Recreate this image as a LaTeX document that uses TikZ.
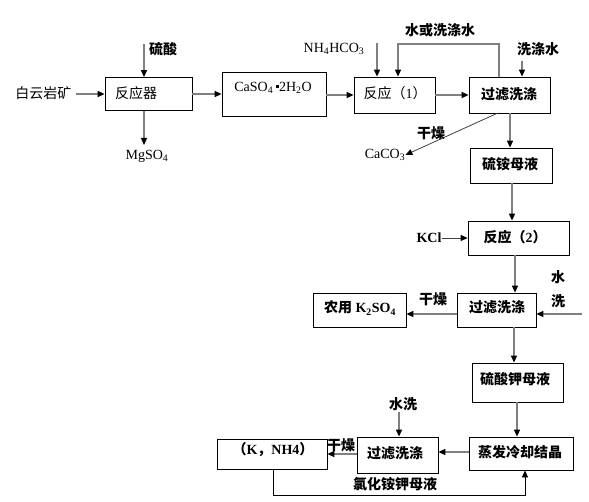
\documentclass[tikz,border=0pt]{standalone}
\usepackage{fontspec}
\setmainfont{Liberation Serif}
\newfontfamily\cjk{Noto Sans CJK SC}
\usetikzlibrary{arrows.meta}
\newcommand{\zh}[1]{{\cjk #1}}
\newcommand{\zhb}[1]{{\cjk\bfseries #1}}
\newcommand{\sub}[1]{\textsubscript{#1}}
\begin{document}
\begin{tikzpicture}[x=1pt,y=-1pt,
  box/.style={draw=black, line width=0.8pt, inner sep=0pt},
  txt/.style={inner sep=0pt, font=\fontsize{14pt}{16pt}\selectfont},
  arr/.style={draw=black!50, line width=1.3pt, -{Triangle[length=7pt,width=6pt,black]}},
  thinarr/.style={draw=black!75, line width=0.8pt, -{Triangle[length=7pt,width=6pt,black]}},
  loopline/.style={draw=black, line width=0.8pt, -{Triangle[length=7pt,width=6pt,black]}}]
\useasboundingbox (0,0) rectangle (589,502);
\fill[white] (0,0) rectangle (589,502);

% boxes
\node[box, minimum width=87pt, minimum height=33pt] (r1) at (148.5,94) {};
\node[box, minimum width=104pt, minimum height=44pt] (caso) at (274,94) {};
\node[box, minimum width=81pt, minimum height=36pt] (ra1) at (394.5,95) {};
\node[box, minimum width=81pt, minimum height=36pt] (f1) at (509.5,95) {};
\node[box, minimum width=82pt, minimum height=35pt] (ml1) at (511,165.5) {};
\node[box, minimum width=101pt, minimum height=34pt] (ra2) at (518.5,238) {};
\node[box, minimum width=79pt, minimum height=34pt] (f2) at (496.5,310) {};
\node[box, minimum width=93pt, minimum height=34pt] (k2) at (359.5,310) {};
\node[box, minimum width=91pt, minimum height=39pt] (ml2) at (517.5,382.5) {};
\node[box, minimum width=104pt, minimum height=33pt] (ev) at (521,453.5) {};
\node[box, minimum width=81pt, minimum height=36pt] (f3) at (397.5,455) {};
\node[box, minimum width=110pt, minimum height=30pt] (kn) at (272,454) {};

% texts in boxes
\node[txt] (t1) at (136,93) {\zh{反应器}};
\node[txt] (t2) at (273,88) {CaSO\sub{4}\,\rule[0.22em]{0.25em}{0.25em}2H\sub{2}O};
\node[txt] (t3) at (395,93) {\zh{反应（}1\zh{）}};
\node[txt] (t4) at (509,94) {\zhb{过滤洗涤}};
\node[txt] (t5) at (510,164) {\zhb{硫铵母液}};
\node[txt] (t6) at (515,237) {\zhb{反应（}\textbf{2}\zhb{）}};
\node[txt] (t7) at (497,307) {\zhb{过滤洗涤}};
\node[txt] (t8) at (360,308) {\zhb{农用} \textbf{K\sub{2}SO\sub{4}}};
\node[txt] (t9) at (515,379) {\zhb{硫酸钾母液}};
\node[txt] (t10) at (520,452) {\zhb{蒸发冷却结晶}};
\node[txt] (t11) at (395,453) {\zhb{过滤洗涤}};
\node[txt] (t12) at (273,450) {\zhb{（}\textbf{K}\zhb{，}\textbf{NH4}\zhb{）}};

% free labels
\node[txt] (ore) at (43.5,93) {\zh{白云岩矿}};
\node[txt] (acid) at (163,49) {\zhb{硫酸}};
\node[txt] (mg) at (147,156) {MgSO\sub{4}};
\node[txt] (nh) at (334,49) {NH\sub{4}HCO\sub{3}};
\node[txt] (wa) at (440,30) {\zhb{水或洗涤水}};
\node[txt] (wb) at (538,49) {\zhb{洗涤水}};
\node[txt] (dry1) at (431,133) {\zhb{干燥}};
\node[txt] (caco) at (385,155) {CaCO\sub{3}};
\node[txt] (kcl) at (429,238) {\textbf{KCl}};
\node[txt] (shui) at (558,277) {\zhb{水}};
\node[txt] (xi) at (558,301) {\zhb{洗}};
\node[txt] (dry2) at (433,299) {\zhb{干燥}};
\node[txt] (sx) at (403,404) {\zhb{水洗}};
\node[txt] (dry3) at (341,445) {\zhb{干燥}};
\node[txt] (lq) at (395,484) {\zhb{氯化铵钾母液}};

% coordinates for free ends and line positions
\coordinate (a0) at (76,94);
\coordinate (s0) at (144,44);
\coordinate (m0) at (144,145);
\coordinate (n0) at (377,43);
\coordinate (lp) at (499,44);
\coordinate (lr) at (398,44);
\coordinate (w0) at (522,61);
\coordinate (cs) at (497,0);
\coordinate (x510) at (510,0);
\coordinate (x512) at (512,0);
\coordinate (x515) at (515,0);
\coordinate (h0) at (582,314);
\coordinate (y314) at (0,314);
\coordinate (x514) at (514,0);
\coordinate (x517) at (517,0);
\coordinate (y452) at (0,452);
\coordinate (v0) at (399,412);
\coordinate (y454) at (0,454);
\coordinate (b1) at (273,495);
\coordinate (b2) at (525,495);

% connectors
\draw[arr] (a0) -- (a0 -| r1.west);
\draw[arr] (s0) -- (s0 |- r1.north);
\draw[arr] (m0 |- r1.south) -- (m0);
\draw[arr] (r1.east) -- (caso.west);
\draw[arr] (caso.east |- ra1) -- (ra1.west);
\draw[arr] (ra1.east) -- (f1.west);
\draw[arr] (n0) -- (n0 |- ra1.north);
\draw[arr] (lp |- f1.north) -- (lp) -- (lr) -- (lr |- ra1.north);
\draw[arr] (w0) -- (w0 |- f1.north);
\draw[thinarr] (cs |- f1.south) -- (caco.east);
\draw[arr] (x510 |- f1.south) -- (x510 |- ml1.north);
\draw[arr] (x512 |- ml1.south) -- (x512 |- ra2.north);
\draw[thinarr] (kcl.east) -- (kcl.east -| ra2.west);
\draw[arr] (x515 |- ra2.south) -- (x515 |- f2.north);
\draw[arr] (h0) -- (h0 -| f2.east);
\draw[arr] (y314 -| f2.west) -- (y314 -| k2.east);
\draw[arr] (x514 |- f2.south) -- (x514 |- ml2.north);
\draw[arr] (x517 |- ml2.south) -- (x517 |- ev.north);
\draw[arr] (y452 -| ev.west) -- (y452 -| f3.east);
\draw[arr] (v0) -- (v0 |- f3.north);
\draw[arr] (y454 -| f3.west) -- (y454 -| kn.east);
\draw[loopline] (b1 |- kn.south) -- (b1) -- (b2) -- (b2 |- ev.south);
\end{tikzpicture}
\end{document}
